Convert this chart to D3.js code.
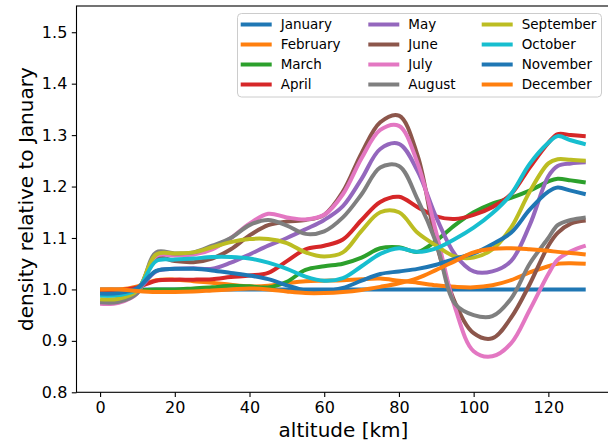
<!DOCTYPE html>
<html>
<head>
<meta charset="utf-8">
<script src="https://cdn.jsdelivr.net/npm/d3@7"></script>
<style>
  html, body { margin: 0; padding: 0; background: #fff; }
  svg { display: block; font-family: "DejaVu Sans", sans-serif; }
</style>
</head>
<body>
<svg id="chart" width="608" height="447"></svg>
<script>
// altitude grid [km]
const altitudes = [0, 5, 10, 15, 20, 25, 30, 35, 40, 45, 50, 55, 60, 65, 70, 75, 80, 85, 90, 95, 100, 105, 110, 115, 120, 122.5, 126, 130];

const months = ['January', 'February', 'March', 'April', 'May', 'June',
  'July', 'August', 'September', 'October', 'November', 'December'];

const january = altitudes.map(() => 1.0);
const february = [1.0, 1.0, 1.006, 1.018, 1.019, 1.016, 1.013, 1.009, 1.006, 1.007, 1.012, 1.016, 1.017, 1.018, 1.02, 1.021, 1.017, 1.013, 1.008, 1.005, 1.004, 1.008, 1.018, 1.033, 1.045, 1.05, 1.051, 1.05];
const march = [0.996, 0.996, 0.998, 1.0, 1.0, 1.002, 1.004, 1.007, 1.006, 1.004, 1.015, 1.038, 1.045, 1.05, 1.062, 1.08, 1.082, 1.073, 1.095, 1.125, 1.15, 1.167, 1.178, 1.192, 1.21, 1.215, 1.212, 1.208];
const april = [0.998, 0.998, 1.004, 1.017, 1.019, 1.019, 1.02, 1.024, 1.027, 1.032, 1.055, 1.078, 1.085, 1.097, 1.135, 1.17, 1.18, 1.16, 1.142, 1.137, 1.145, 1.16, 1.185, 1.237, 1.285, 1.302, 1.3, 1.298];
const may = [0.978, 0.98, 0.998, 1.035, 1.04, 1.041, 1.04, 1.052, 1.068, 1.085, 1.1, 1.117, 1.135, 1.162, 1.215, 1.273, 1.283, 1.23, 1.14, 1.068, 1.035, 1.035, 1.055, 1.125, 1.22, 1.24, 1.245, 1.247];
const june = [0.975, 0.977, 0.998, 1.062, 1.055, 1.053, 1.06, 1.078, 1.105, 1.125, 1.132, 1.135, 1.145, 1.19, 1.265, 1.325, 1.338, 1.26, 1.09, 0.975, 0.915, 0.905, 0.945, 1.01, 1.085, 1.11, 1.128, 1.134];
const july = [0.972, 0.974, 0.993, 1.065, 1.066, 1.068, 1.078, 1.1, 1.128, 1.147, 1.14, 1.136, 1.145, 1.185, 1.255, 1.31, 1.318, 1.245, 1.11, 0.965, 0.88, 0.87, 0.895, 0.96, 1.03, 1.058, 1.074, 1.085];
const august = [0.975, 0.976, 0.993, 1.072, 1.07, 1.072, 1.085, 1.1, 1.125, 1.135, 1.124, 1.108, 1.113, 1.14, 1.185, 1.237, 1.24, 1.175, 1.09, 0.972, 0.95, 0.948, 0.982, 1.05, 1.1, 1.125, 1.135, 1.14];
const september = [0.981, 0.982, 0.998, 1.068, 1.07, 1.072, 1.082, 1.092, 1.098, 1.098, 1.09, 1.072, 1.064, 1.072, 1.114, 1.15, 1.15, 1.11, 1.085, 1.064, 1.062, 1.078, 1.12, 1.19, 1.245, 1.253, 1.252, 1.25];
const october = [0.988, 0.989, 1.0, 1.055, 1.058, 1.06, 1.063, 1.063, 1.06, 1.052, 1.04, 1.025, 1.017, 1.022, 1.045, 1.069, 1.08, 1.073, 1.08, 1.098, 1.12, 1.148, 1.185, 1.244, 1.285, 1.298, 1.29, 1.282];
const november = [0.992, 0.993, 1.003, 1.036, 1.04, 1.04, 1.037, 1.032, 1.027, 1.02, 1.008, 0.998, 0.997, 1.003, 1.017, 1.03, 1.035, 1.04, 1.048, 1.06, 1.07, 1.088, 1.11, 1.155, 1.19, 1.198, 1.192, 1.185];
const december = [1.0, 1.0, 0.997, 0.995, 0.995, 0.996, 0.998, 1.0, 1.002, 1.0, 0.996, 0.993, 0.993, 0.995, 0.999, 1.005, 1.012, 1.022, 1.038, 1.055, 1.072, 1.079, 1.08, 1.078, 1.075, 1.073, 1.071, 1.068];

const seriesValues = [january, february, march, april, may, june,
  july, august, september, october, november, december];

const xTicks = [0, 20, 40, 60, 80, 100, 120];
const yTicks = [0.8, 0.9, 1.0, 1.1, 1.2, 1.3, 1.4, 1.5];

// matplotlib tab10, cycles after ten
const palette = ['#1f77b4', '#ff7f0e', '#2ca02c', '#d62728', '#9467bd',
  '#8c564b', '#e377c2', '#7f7f7f', '#bcbd22', '#17becf'];

const svg = d3.select('#chart');
const plot = { left: 76.5, right: 610.5, top: 6, bottom: 392.3 };

const x = d3.scaleLinear([-6.5, 136.5], [75.8, 610]);
const y = d3.scaleLinear([0.8, 1.551], [plot.bottom, plot.top]);
const color = i => palette[i % palette.length];

const series = months.map((name, i) => ({
  name,
  points: altitudes.map((a, j) => [a, seriesValues[i][j]])
}));

// lines
const line = d3.line()
  .x(d => x(d[0]))
  .y(d => y(d[1]))
  .curve(d3.curveCatmullRom.alpha(0.5));

svg.append('g')
  .selectAll('path')
  .data(series)
  .join('path')
    .attr('d', d => line(d.points))
    .attr('fill', 'none')
    .attr('stroke', (d, i) => color(i))
    .attr('stroke-width', 4)
    .attr('stroke-linejoin', 'round')
    .attr('stroke-linecap', 'butt');

// axes
const xAxis = svg.append('g')
  .attr('transform', `translate(0,${plot.bottom})`)
  .call(d3.axisBottom(x).tickValues(xTicks).tickSize(4.7).tickPadding(4.5).tickFormat(d3.format('d')));
const yAxis = svg.append('g')
  .attr('transform', `translate(${plot.left},0)`)
  .call(d3.axisLeft(y).tickValues(yTicks).tickSize(4.7).tickPadding(4.5).tickFormat(d3.format('.1f')));

[xAxis, yAxis].forEach(g => g
  .call(g => g.select('.domain').remove())
  .call(g => g.selectAll('.tick line').attr('stroke', '#000').attr('stroke-width', 1.1))
  .call(g => g.selectAll('.tick text')
    .attr('fill', '#000')
    .attr('font-size', 16)
    .attr('font-family', '"DejaVu Sans", sans-serif')));

xAxis.selectAll('.tick text').attr('dy', '0.72em');

// frame (right spine falls just outside the window)
svg.append('rect')
  .attr('x', plot.left)
  .attr('y', plot.top)
  .attr('width', plot.right - plot.left)
  .attr('height', plot.bottom - plot.top)
  .attr('fill', 'none')
  .attr('stroke', '#000')
  .attr('stroke-width', 1.1);

// axis titles
svg.append('text')
  .attr('x', (plot.left + plot.right) / 2)
  .attr('y', 437)
  .attr('text-anchor', 'middle')
  .attr('font-size', 20)
  .text('altitude [km]');

svg.append('text')
  .attr('transform', `translate(33,${(plot.top + plot.bottom) / 2}) rotate(-90)`)
  .attr('text-anchor', 'middle')
  .attr('font-size', 20)
  .text('density relative to January');

// legend: 3 columns x 4 rows, column-major
const legend = svg.append('g');
legend.append('rect')
  .attr('x', 237.5)
  .attr('y', 13.5)
  .attr('width', 364)
  .attr('height', 83.5)
  .attr('rx', 4)
  .attr('fill', '#fff')
  .attr('fill-opacity', 0.8)
  .attr('stroke', '#cccccc')
  .attr('stroke-width', 1);

const colX = [240.7, 368.3, 481.7];
const item = legend.selectAll('g.item')
  .data(months)
  .join('g')
    .attr('class', 'item')
    .attr('transform', (d, i) => `translate(${colX[Math.floor(i / 4)]},${24.5 + (i % 4) * 20})`);

item.append('line')
  .attr('x1', 0)
  .attr('x2', 31)
  .attr('stroke', (d, i) => color(i))
  .attr('stroke-width', 4);

item.append('text')
  .attr('x', 40)
  .attr('dy', '0.36em')
  .attr('font-size', 13.5)
  .text(d => d);
</script>
</body>
</html>
